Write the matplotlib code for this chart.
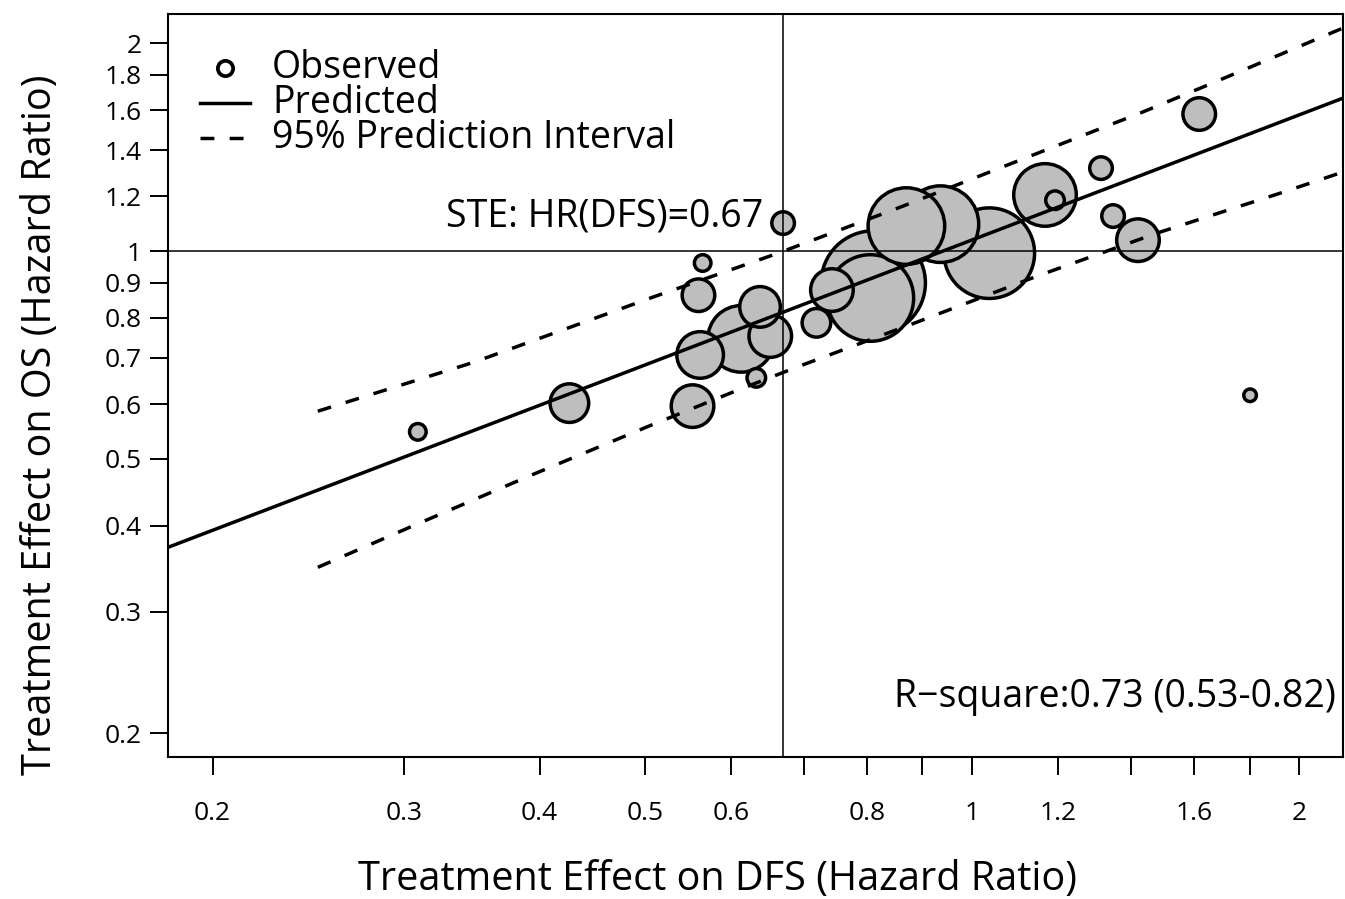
import numpy as np
import matplotlib
matplotlib.use("Agg")
import matplotlib.pyplot as plt
from matplotlib.ticker import NullLocator, FixedFormatter

plt.rcParams['font.family'] = ['Open Sans', 'DejaVu Sans']
plt.rcParams['lines.scale_dashes'] = False

# trial-level hazard ratios (DFS vs OS) and relative trial weight
hr_dfs = [0.309, 0.426, 0.565, 0.560, 0.638, 0.652, 0.562, 0.613, 0.633, 0.553,
          0.670, 0.719, 0.743, 0.806, 0.811, 0.870, 0.935, 1.037, 1.167, 1.192,
          1.314, 1.348, 1.421, 1.618, 1.802]
hr_os = [0.547, 0.602, 0.961, 0.863, 0.830, 0.753, 0.707, 0.746, 0.655, 0.596,
         1.098, 0.787, 0.878, 0.855, 0.899, 1.087, 1.094, 0.993, 1.206, 1.185,
         1.319, 1.124, 1.037, 1.580, 0.618]
weight = [100, 441, 100, 324, 484, 529, 625, 1225, 121, 529,
          169, 256, 529, 2025, 2900, 1600, 1600, 2209, 1089, 121,
          169, 169, 529, 324, 64]

# fitted line and 95% prediction band (log-log)
fit_x = [0.182, 2.194]
fit_y = [0.372, 1.666]
upper_x = [0.250, 0.348, 0.509, 0.663, 0.859, 1.107, 1.436, 1.631, 2.194]
upper_y = [0.586, 0.690, 0.858, 0.993, 1.158, 1.355, 1.591, 1.729, 2.105]
lower_x = [0.250, 0.304, 0.390, 0.502, 0.603, 0.690, 0.890, 1.148, 1.480, 1.920, 2.194]
lower_y = [0.348, 0.398, 0.471, 0.556, 0.625, 0.679, 0.789, 0.920, 1.062, 1.213, 1.302]

ste = 0.67
r2_text = "R\u2212square:0.73 (0.53-0.82)"

ticks = [0.2, 0.3, 0.4, 0.5, 0.6, 0.7, 0.8, 0.9, 1, 1.2, 1.4, 1.6, 1.8, 2]
xlabels = ['0.2', '0.3', '0.4', '0.5', '0.6', '', '0.8', '', '1', '1.2', '', '1.6', '', '2']
ylabels = ['0.2', '0.3', '0.4', '0.5', '0.6', '0.7', '0.8', '0.9', '1', '1.2', '1.4', '1.6', '1.8', '2']


def bubble_area(w):
    # weight -> marker area in pt^2 (radius in px ~ sqrt(w), minus half the edge)
    r_px = np.sqrt(np.asarray(w, float)) - 1.7
    return (2 * r_px * 0.72) ** 2


fig = plt.figure(figsize=(13.45, 8.99), dpi=100)
ax = fig.add_axes([0.1249, 0.1580, 0.8736, 0.8264])
ax.set_xscale('log')
ax.set_yscale('log')
ax.set_xlim(0.182, 2.194)
ax.set_ylim(0.1848, 2.206)

# big trials first so small ones stay visible
order = np.argsort(weight)[::-1]
x = np.array(hr_dfs)[order]
y = np.array(hr_os)[order]
w = np.array(weight)[order]
ax.scatter(x, y, s=bubble_area(w), facecolor='#bebebe', edgecolor='black',
           linewidth=2.5, zorder=2)

ax.plot(fit_x, fit_y, color='black', lw=2.5, zorder=3, solid_capstyle='butt')
ax.plot(upper_x, upper_y, color='black', lw=2.5, dashes=(10, 11), zorder=3)
ax.plot(lower_x, lower_y, color='black', lw=2.5, dashes=(10, 11), zorder=3)

ax.axhline(1, color='black', lw=1.1, zorder=4)
ax.axvline(ste, color='black', lw=1.1, zorder=4)

ax.set_xticks(ticks)
ax.set_yticks(ticks)
ax.xaxis.set_major_formatter(FixedFormatter(xlabels))
ax.yaxis.set_major_formatter(FixedFormatter(ylabels))
ax.xaxis.set_minor_locator(NullLocator())
ax.yaxis.set_minor_locator(NullLocator())
ax.tick_params(axis='both', direction='out', length=13, width=1.4, labelsize=19)
ax.tick_params(axis='x', pad=19)
ax.tick_params(axis='y', pad=6)
for sp in ax.spines.values():
    sp.set_linewidth(1.5)

ax.set_xlabel('Treatment Effect on DFS (Hazard Ratio)', fontsize=28.5)
ax.set_ylabel('Treatment Effect on OS (Hazard Ratio)', fontsize=28.5)
ax.xaxis.label.set_va('center')
ax.yaxis.label.set_va('center')
ax.xaxis.set_label_coords(0.4677, -0.1655)
ax.yaxis.set_label_coords(-0.108, 0.447)

# legend
rows = [0.9273, 0.8802, 0.8331]
ax.plot([0.0485], [rows[0]], 'o', ms=11, mfc='white', mec='black', mew=2.7,
        transform=ax.transAxes)
ax.plot([0.0272, 0.0698], [rows[1]] * 2, color='black', lw=2.5, transform=ax.transAxes)
ax.plot([0.0272, 0.0698], [rows[2]] * 2, color='black', lw=2.5, dashes=(10, 11),
        transform=ax.transAxes)
for yy, lab in zip(rows, ['Observed', 'Predicted', '95% Prediction Interval']):
    ax.text(0.0885, yy, lab, transform=ax.transAxes, fontsize=27, va='center')

ax.text(0.5064, 0.7281, 'STE: HR(DFS)=0.67', transform=ax.transAxes,
        fontsize=27, ha='right', va='center')
ax.text(0.994, 0.0808, r2_text, transform=ax.transAxes,
        fontsize=27, ha='right', va='center')

fig.savefig('out.png', dpi=100)
